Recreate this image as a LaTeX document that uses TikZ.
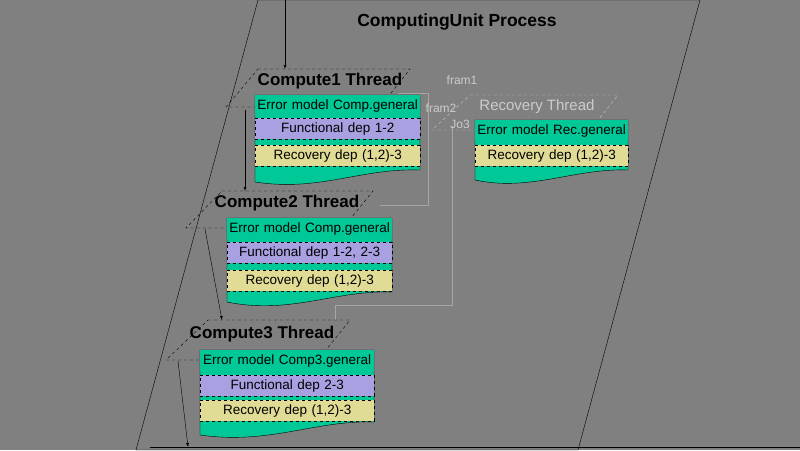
\documentclass[tikz,border=0pt]{standalone}
\usepackage{fontspec}
\setmainfont{Liberation Sans}
\begin{document}
\begin{tikzpicture}[x=1pt,y=-1pt,
  ttl/.style={font=\bfseries\fontsize{17}{19}\selectfont},
  thr/.style={draw=black,dashed},
  row/.style={draw=black,dashed,anchor=north west,inner sep=0pt,minimum height=21pt,align=center,font=\fontsize{13.5}{15}\selectfont},
  conn/.style={draw=black,-latex},
  faint/.style={draw=gray!70!white,line width=0.4pt}]
\definecolor{gr}{HTML}{00C896}
\definecolor{lav}{HTML}{A8A0E0}
\definecolor{yel}{HTML}{E0DC96}
\fill[gray] (0,0) rectangle (800,450);
\useasboundingbox (0,0) rectangle (800,450);
% outer process
\draw (258,0) -- (700,0) -- (578,450) -- (136,450) -- cycle;
\node[font=\bfseries\fontsize{17.5}{19}\selectfont] (title) at (457,22) {ComputingUnit Process};
\coordinate (top) at (285,0);
% faint connectors
\draw[faint] (398,93) -- (428,93) -- (428,205) -- (380,205);
\draw[faint] (452,126) -- (452,305) -- (335,305) -- (335,320);
% Recovery thread
\draw[thr,draw=gray!40!white] (470,95) -- (618,95) -- (590,130) -- (432,130) -- cycle;
\node[font=\fontsize{15}{17}\selectfont,text=gray!40!white] (rt) at (537,107) {Recovery Thread};
\node[font=\fontsize{12}{13}\selectfont,text=gray!40!white] (f1) at (462,80) {fram1};
\node[font=\fontsize{12}{13}\selectfont,text=gray!40!white] (f2) at (441,108) {fram2};
\node[font=\fontsize{12}{13}\selectfont,text=gray!40!white] (f3) at (460,124) {Jo3};
% Compute1
\draw[thr] (258,69) -- (410,69) -- (380,107) -- (226,107) -- cycle;
\node[ttl] (c1) at (330,81) {Compute1 Thread};
\fill[gr,draw=black] (255,95) -- (420,95) -- (420,170) .. controls (360,168) and (320,192) .. (255,182) -- cycle;
\node[row,fill=gr,draw=none,text width=165pt] (e1) at (255,95) {Error model Comp.general};
\node[row,fill=lav,text width=165pt] (fd1) at (255,118) {Functional dep 1-2};
\node[row,fill=yel,text width=165pt] (rd1) at (255,145) {Recovery dep (1,2)-3};
% Rec box
\fill[gr,draw=black] (475,120) -- (628,120) -- (628,170) .. controls (575,168) and (530,192) .. (475,180) -- cycle;
\node[row,fill=gr,draw=none,text width=153pt] (er) at (475,120) {Error model Rec.general};
\node[row,fill=yel,text width=153pt] (rr) at (475,145) {Recovery dep (1,2)-3};
% Compute2
\draw[thr] (222,191) -- (373,191) -- (343,228) -- (186,228) -- cycle;
\node[ttl] (c2) at (287,203) {Compute2 Thread};
\fill[gr,draw=black] (227,218) -- (392,218) -- (392,292) .. controls (335,290) and (290,315) .. (227,302) -- cycle;
\node[row,fill=gr,draw=none,text width=165pt] (e2) at (227,218) {Error model Comp.general};
\node[row,fill=lav,text width=165pt] (fd2) at (227,242) {Functional dep 1-2, 2-3};
\node[row,fill=yel,text width=165pt] (rd2) at (227,270) {Recovery dep (1,2)-3};
% Compute3
\draw[thr] (208,320) -- (350,320) -- (318,360) -- (166,360) -- cycle;
\node[ttl] (c3) at (262,334) {Compute3 Thread};
\fill[gr,draw=black] (200,350) -- (374,350) -- (374,422) .. controls (315,420) and (270,445) .. (200,435) -- cycle;
\node[row,fill=gr,draw=none,text width=174pt] (e3) at (200,350) {Error model Comp3.general};
\node[row,fill=lav,text width=174pt] (fd3) at (200,375) {Functional dep 2-3};
\node[row,fill=yel,text width=174pt] (rd3) at (200,400) {Recovery dep (1,2)-3};
% connectors
\coordinate (a1) at (285,69);
\coordinate (b1) at (245,110); \coordinate (a2) at (245,191);
\coordinate (b2) at (205,229); \coordinate (a3) at (222,320);
\coordinate (b3) at (178,361); \coordinate (a4) at (188,447);
\draw[conn] (top) -- (a1);
\draw[conn] (b1) -- (a2);
\draw[conn] (b2) -- (a3);
\draw[conn] (b3) -- (a4);
\draw (150,447) -- (800,447);
\end{tikzpicture}
\end{document}
